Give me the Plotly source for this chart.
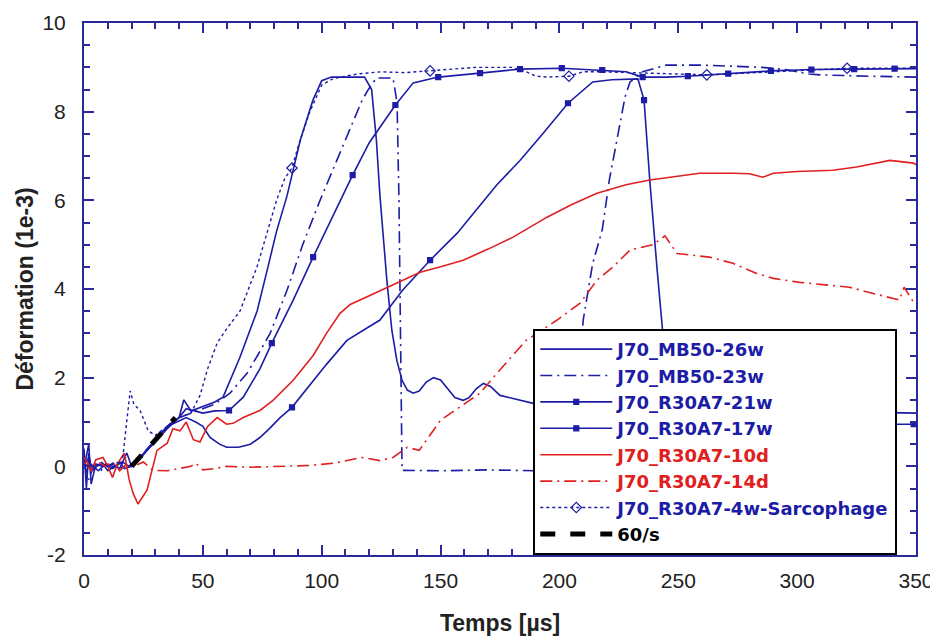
import plotly.graph_objects as go

# ---------------- data ----------------
mb26_x = [0, 1, 2, 3, 5, 8, 10, 13, 15, 17, 20, 24, 28, 32, 36, 40, 42, 45, 50, 55, 58.5, 62, 65.6, 69, 72.8,
          77.4, 81, 85.4, 91, 96.3, 100, 104, 110, 118, 121, 123, 124.5, 127.4, 129.5, 131.6, 133.8, 136, 138.5,
          141, 144, 147, 150, 153, 156, 159.5, 162, 165, 168, 171, 175, 180.5, 185, 189, 200, 220, 250, 300, 350]
mb26_y = [0.4, -0.5, 0.3, -0.1, 0.0, 0.05, -0.1, 0.0, 0.1, -0.05, 0.0, 0.2, 0.45, 0.7, 0.95, 1.1, 1.5, 1.25,
          1.35, 1.45, 1.56, 2.0, 2.46, 2.95, 3.5, 4.5, 5.3, 6.1, 7.36, 8.26, 8.7, 8.78, 8.78, 8.78, 8.5, 7.36, 6.1,
          4.2, 3.07, 2.39, 1.94, 1.72, 1.65, 1.7, 1.9, 2.0, 1.95, 1.75, 1.55, 1.49, 1.55, 1.75, 1.87, 1.8, 1.6,
          1.53, 1.47, 1.42, 1.4, 1.35, 1.3, 1.25, 1.2]

mb23_x = [0, 2, 4, 7, 10, 14, 18, 21, 25, 30, 35, 40, 45, 50, 55, 61.4, 68.6, 73, 78.3, 85.4, 92, 99.3, 106.4,
          111, 117, 119.5, 123, 130, 131.7, 132.5, 133, 133.8, 150, 170, 190, 205, 207, 210, 214, 218, 221, 222.6,
          227.6, 229.7, 235, 245, 260, 285, 295, 305, 310, 330, 350]
mb23_y = [0.1, -0.3, 0.0, -0.1, 0.05, -0.05, 0.0, 0.05, 0.3, 0.6, 0.9, 1.1, 1.2, 1.3, 1.4, 1.65, 2.1, 2.5, 3.0,
          3.97, 5.0, 6.0, 6.9, 7.5, 8.26, 8.49, 8.76, 8.76, 8.2, 6.0, 3.0, -0.09, -0.1, -0.08, -0.1, -0.05, 1.0,
          3.3, 4.58, 5.33, 6.46, 6.9, 8.33, 8.67, 8.9, 9.05, 9.05, 9.0, 8.95, 8.85, 8.83, 8.8, 8.78]

r21_x = [0, 3, 6, 9, 12, 16, 19, 22, 26, 30, 35, 40, 43, 50, 55, 61, 67, 74, 79, 88, 96.4, 106.4, 113, 120, 131,
         138.5, 149, 166.6, 183.4, 201, 218, 228, 235, 245, 254, 262, 271, 277, 289, 300, 306, 324, 341, 350]
r21_y = [0.0, 0.05, -0.1, 0.05, -0.05, 0.1, 0.0, 0.1, 0.35, 0.55, 0.85, 1.1, 1.3, 1.2, 1.25, 1.26, 1.56, 2.2,
         2.78, 3.75, 4.72, 5.85, 6.57, 7.3, 8.15, 8.65, 8.78, 8.87, 8.96, 8.98, 8.94, 8.9, 8.78, 8.78, 8.8, 8.83,
         8.86, 8.88, 8.92, 8.94, 8.95, 8.96, 8.97, 8.97]
r21_marks = [61, 79, 96.4, 113, 131, 149, 166.6, 183.4, 201, 218, 235, 254, 271, 289, 306, 324, 341]

r17_x = [0, 2, 3, 5, 8, 12, 15, 18, 20, 23, 27, 31, 35, 39, 43, 47, 50, 53, 57, 60, 65, 70, 74, 78, 82.5, 87.5,
         91, 96.4, 102, 110.6, 117, 124.5, 134, 145.6, 157, 166.6, 173.7, 183.4, 193, 203.6, 209, 214, 222, 233,
         235.6, 238, 241, 243, 246, 250, 262, 290, 320, 349, 350]
r17_y = [-0.05, 0.5, -0.4, 0.05, 0.0, 0.05, -0.05, 0.3, 0.0, 0.15, 0.4, 0.6, 0.9, 1.0, 1.1, 1.0, 0.9, 0.65, 0.5,
         0.43, 0.43, 0.5, 0.65, 0.85, 1.1, 1.33, 1.56, 1.94, 2.3, 2.84, 3.05, 3.3, 3.97, 4.65, 5.26, 5.9, 6.35,
         6.9, 7.5, 8.19, 8.45, 8.67, 8.72, 8.74, 8.26, 6.46, 4.5, 3.3, 1.5, 1.0, 0.95, 0.95, 0.95, 0.95, 0.95]
r17_marks = [87.5, 145.6, 203.6, 235.6, 262, 320, 349]

r10_x = [0, 3, 5, 8, 10, 12, 14, 17, 19, 20.6, 22.7, 24.5, 26.5, 28.6, 30.7, 35, 37.4, 40.4, 43, 46, 48.8, 52,
         56, 60, 62.7, 67, 74, 79.5, 82.5, 88, 96.4, 102, 107.7, 112, 120, 127.5, 141.4, 150, 159.5, 170, 180.5,
         194.8, 205, 215.8, 228, 238, 250, 259, 273, 280, 285.6, 290, 300, 315, 325, 339, 349, 350]
r10_y = [0.1, -0.1, 0.15, 0.2, 0.0, -0.25, 0.05, 0.3, -0.3, -0.6, -0.85, -0.7, -0.54, -0.09, 0.36, 0.52, 0.85,
         0.8, 1.0, 0.6, 0.55, 0.9, 1.1, 0.95, 0.97, 1.1, 1.26, 1.49, 1.65, 1.94, 2.5, 3.0, 3.45, 3.65, 3.85, 4.04,
         4.38, 4.5, 4.65, 4.9, 5.17, 5.62, 5.9, 6.16, 6.35, 6.46, 6.55, 6.61, 6.61, 6.6, 6.52, 6.61, 6.65, 6.68,
         6.75, 6.9, 6.84, 6.8]

r14_x = [0, 3, 6, 9, 12, 15, 18, 21, 25, 29, 35, 40, 45, 47, 50, 55, 60, 70, 82.5, 95, 105, 117, 124.5, 130,
         136, 141, 150, 158, 166.6, 173.7, 186, 199, 208.7, 215.8, 222.6, 229.7, 239.4, 244.4, 249.5, 263, 273,
         283, 290, 301, 312.6, 322, 332, 343, 345, 349]
r14_y = [0.2, -0.05, 0.1, 0.0, 0.1, -0.1, 0.05, 0.0, 0.1, -0.09, -0.1, -0.05, 0.0, 0.07, -0.08, -0.05, 0.0,
         -0.02, 0.0, 0.02, 0.07, 0.2, 0.13, 0.2, 0.43, 0.36, 1.04, 1.33, 1.65, 2.1, 2.84, 3.3, 3.68, 4.2, 4.5,
         4.88, 5.0, 5.2, 4.8, 4.72, 4.58, 4.35, 4.24, 4.15, 4.09, 4.04, 3.9, 3.75, 4.04, 3.7]

sarc_x = [0, 2, 4, 7, 10, 13, 16, 19.4, 21, 23.6, 27, 30, 35, 40, 45, 48.8, 52, 56, 60, 65.6, 72.8, 77, 81, 84.5,
          87.5, 90, 95, 100, 105, 115, 125, 135, 145.6, 155, 165, 180, 186, 190, 195, 204, 210, 218, 230, 245,
          262, 275, 290, 305, 321, 335, 350]
sarc_y = [0.0, 0.2, -0.1, 0.1, 0.0, 0.1, 0.05, 1.7, 1.4, 1.26, 0.8, 0.7, 0.9, 1.1, 1.2, 1.6, 2.2, 2.78, 3.1, 3.5,
          4.5, 5.3, 6.0, 6.5, 6.73, 7.2, 8.0, 8.6, 8.75, 8.85, 8.9, 8.88, 8.92, 8.95, 9.0, 9.0, 8.9, 8.8, 8.78,
          8.8, 8.9, 8.9, 8.88, 8.85, 8.83, 8.86, 8.9, 8.95, 8.98, 8.98, 8.98]
sarc_marks = [87.5, 145.6, 204, 262, 321]

rate_x = [20, 38.5]
rate_y = [0, 1.1]

names = ["J70_MB50-26w", "J70_MB50-23w", "J70_R30A7-21w", "J70_R30A7-17w",
         "J70_R30A7-10d", "J70_R30A7-14d", "J70_R30A7-4w-Sarcophage", "60/s"]

x_ticks = [0, 50, 100, 150, 200, 250, 300, 350]
y_ticks = [-2, 0, 2, 4, 6, 8, 10]
y_ticktext = ["-2", "0", "2", "4", "6", "8", "10"]

BLUE = "#1c1ca6"
RED = "#e02020"
AXIS = "#2a2a9a"
DASHDOT = "12px,5px,2px,5px"


def pick(xs, ys, marks):
    lut = dict(zip(xs, ys))
    return marks, [lut[m] for m in marks]


def label(name, color):
    return "<span style='color:%s'>%s</span>" % (color, name)


fig = go.Figure()


def add_series(name, xs, ys, color, dash, width, symbol=None, marks=None, msize=6, mfill=None):
    grp = name
    fig.add_trace(go.Scatter(x=xs, y=ys, mode="lines", line=dict(color=color, width=width, dash=dash),
                             legendgroup=grp, showlegend=False, hoverinfo="skip"))
    if marks:
        mx, my = pick(xs, ys, marks)
        fig.add_trace(go.Scatter(x=mx, y=my, mode="markers", legendgroup=grp, showlegend=False,
                                 marker=dict(symbol=symbol, size=msize, color=mfill or color,
                                             line=dict(color=color, width=1.2)), hoverinfo="skip"))
    fig.add_trace(go.Scatter(x=[None], y=[None], mode="lines+markers" if marks else "lines",
                             name=label(name, color), legendgroup=grp,
                             line=dict(color=color, width=width, dash=dash),
                             marker=dict(symbol=symbol or "circle", size=msize, color=mfill or color,
                                         line=dict(color=color, width=1.2))))


add_series(names[0], mb26_x, mb26_y, BLUE, "solid", 1.6)
add_series(names[1], mb23_x, mb23_y, BLUE, DASHDOT, 1.6)
add_series(names[2], r21_x, r21_y, BLUE, "solid", 1.6, "square", r21_marks, 5)
add_series(names[3], r17_x, r17_y, BLUE, "solid", 1.6, "square", r17_marks, 5)
add_series(names[4], r10_x, r10_y, RED, "solid", 1.6)
add_series(names[5], r14_x, r14_y, RED, DASHDOT, 1.6)
add_series(names[6], sarc_x, sarc_y, BLUE, "dot", 1.4, "diamond-open", sarc_marks, 8)
add_series(names[7], rate_x, rate_y, "black", "dash", 5)

tickfont = dict(family="Liberation Sans, Arial, sans-serif", size=21, color="#222222")
titlefont = dict(family="Liberation Sans, Arial, sans-serif", size=23, color="#222222", weight="bold")

# the page body adds an 8 px offset, so the figure is sized to fit the window with it
fig.update_layout(
    width=930, height=631,
    margin=dict(l=76, r=22, t=15, b=84),
    paper_bgcolor="white", plot_bgcolor="white",
    showlegend=True,
    legend=dict(x=0.540, y=0.425, xanchor="left", yanchor="top",
                bgcolor="white", bordercolor="black", borderwidth=2,
                font=dict(family="DejaVu Sans, Liberation Sans, sans-serif", size=18, color=BLUE, weight="bold"),
                tracegroupgap=0, itemwidth=72),
    xaxis=dict(range=[0, 350], tickvals=x_ticks, showgrid=False, zeroline=False, automargin=False,
               showline=True, linecolor=AXIS, linewidth=2, mirror="ticks",
               ticks="inside", ticklen=10, tickwidth=1.5, tickcolor=AXIS,
               minor=dict(dtick=10, tick0=0, ticks="inside", ticklen=6, tickwidth=1.5, tickcolor=AXIS),
               tickfont=tickfont, ticklabelstandoff=6,
               title=dict(text="Temps [µs]", font=titlefont, standoff=24)),
    yaxis=dict(range=[-2, 10], tickvals=y_ticks, ticktext=y_ticktext, showgrid=False, zeroline=False,
               automargin=False,
               showline=True, linecolor=AXIS, linewidth=2, mirror="ticks",
               ticks="inside", ticklen=10, tickwidth=1.5, tickcolor=AXIS,
               minor=dict(dtick=0.5, tick0=0, ticks="inside", ticklen=6, tickwidth=1.5, tickcolor=AXIS),
               tickfont=tickfont, ticklabelstandoff=12,
               title=dict(text="Déformation (1e-3)", font=titlefont, standoff=2)),
)

fig.write_html("out.html")
